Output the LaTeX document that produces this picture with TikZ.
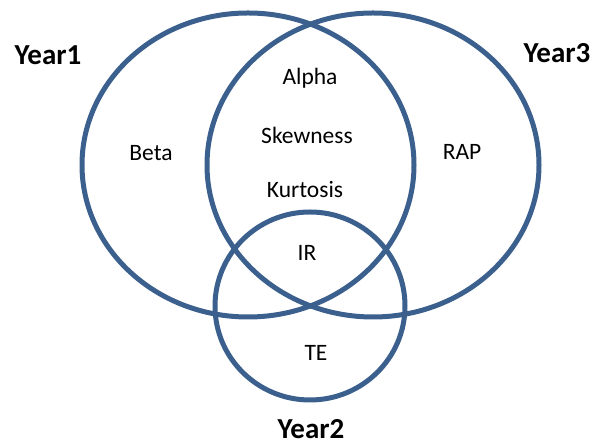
\documentclass[tikz,border=0pt]{standalone}
\usepackage{fontspec}
\setmainfont{Carlito}
\definecolor{ring}{RGB}{60,96,142}
\begin{document}
\begin{tikzpicture}[x=1pt,y=1pt,
  ring/.style={draw=ring,line width=5pt},
  lbl/.style={font=\fontsize{23.5}{25}\selectfont,text=black,inner sep=0pt},
  yr/.style={font=\fontsize{29}{31}\selectfont\bfseries,text=black,inner sep=0pt}]
\useasboundingbox (0,0) rectangle (592,446);
\draw[ring] (248,281) ellipse [x radius=166,y radius=152];
\draw[ring] (373,281) ellipse [x radius=166,y radius=152];
\draw[ring] (310,140) ellipse [x radius=95,y radius=94];
\node[yr] (y1) at (48,391) {Year1};
\node[yr] (y3) at (557,393) {Year3};
\node[yr] (y2) at (311,17) {Year2};
\node[lbl] (alpha) at (310,368) {Alpha};
\node[lbl] (skew) at (307,311) {Skewness};
\node[lbl] (kurt) at (305,256) {Kurtosis};
\node[lbl] (beta) at (151,293) {Beta};
\node[lbl] (rap) at (462,294) {RAP};
\node[lbl] (ir) at (307,193) {IR};
\node[lbl] (te) at (316,93) {TE};
\end{tikzpicture}
\end{document}
